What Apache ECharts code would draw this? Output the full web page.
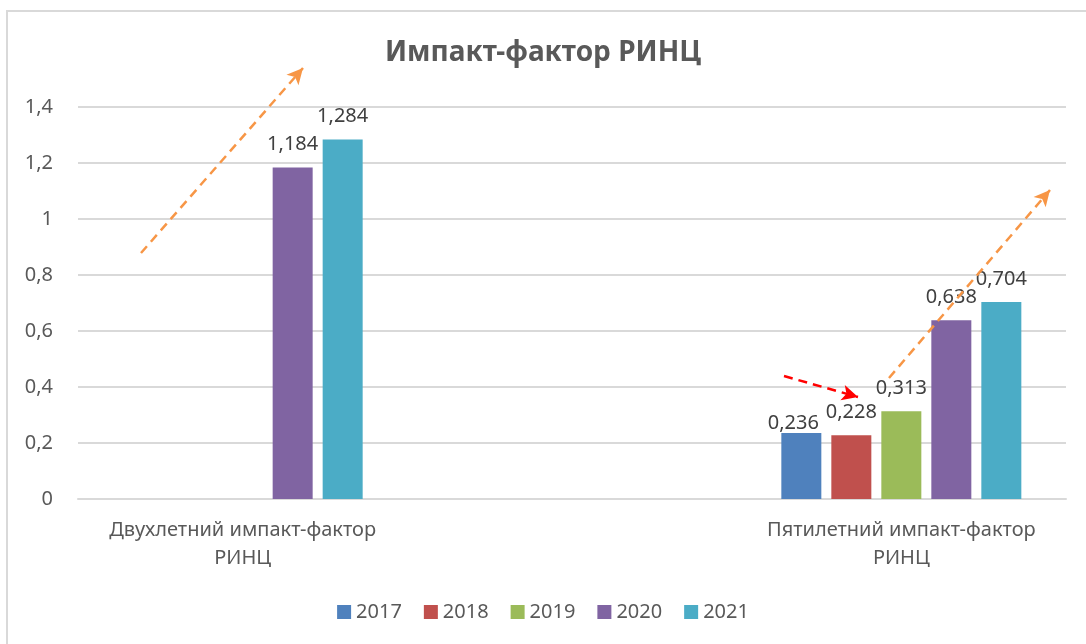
<!DOCTYPE html>
<html>
<head>
<meta charset="utf-8">
<title>Импакт-фактор РИНЦ</title>
<script src="https://cdn.jsdelivr.net/npm/echarts@6/dist/echarts.min.js"></script>
<style>
	html, body { margin: 0; padding: 0; background: #fff; }
	#chart { width: 1086px; height: 644px; }
</style>
</head>
<body>
<div id="chart"></div>
<script>
// категории (средняя пустая, как в исходной таблице)
var categories = [
	"Двухлетний импакт-фактор\nРИНЦ",
	"",
	"Пятилетний импакт-фактор\nРИНЦ"
];
var years = ["2017", "2018", "2019", "2020", "2021"];
var values2017 = [null, null, 0.236];
var values2018 = [null, null, 0.228];
var values2019 = [null, null, 0.313];
var values2020 = [1.184, null, 0.638];
var values2021 = [1.284, null, 0.704];
var yearColors = ["#4f81bd", "#c0504d", "#9bbb59", "#8064a2", "#4bacc6"];

var FONT = "Noto Sans, sans-serif";

function comma(v) {
	return String(+v.toFixed(3)).replace(".", ",");
}

var seriesData = [values2017, values2018, values2019, values2020, values2021];

var series = years.map(function (y, i) {
	return {
		name: y,
		type: "bar",
		data: seriesData[i].slice(),
		barWidth: 40,
		barGap: "25%",
		itemStyle: { color: yearColors[i] },
		label: {
			show: true,
			position: "top",
			distance: 13,
			fontFamily: FONT,
			fontSize: 20,
			color: "#404040",
			formatter: function (p) { return comma(p.value); }
		}
	};
});
// подпись 2017 в Excel сдвинута вручную ближе к столбцу
series[0].data[2] = {
	value: values2017[2],
	label: { distance: 0, offset: [-8, 0] }
};

// стрелки-пометки (пиксельные позиции на рисунке)
function arrow(x1, y1, x2, y2, color) {
	return [
		{ x: x1, y: y1, lineStyle: { color: color, type: [9, 6], width: 2.5 } },
		{ x: x2, y: y2 }
	];
}
series[0].markLine = {
	silent: true,
	animation: false,
	symbol: ["none", "arrow"],
	symbolSize: [12, 16],
	label: { show: false },
	data: [
		arrow(141, 253, 303, 68, "#f79646"),
		arrow(889, 378, 1050, 190, "#f79646"),
		arrow(784, 376, 858, 397, "#ff0000")
	]
};

var chart = echarts.init(document.getElementById("chart"));
chart.setOption({
	animation: false,
	textStyle: { fontFamily: FONT },
	title: {
		text: "Импакт-фактор РИНЦ",
		left: "center",
		top: 34,
		textStyle: {
			fontFamily: FONT,
			fontSize: 28,
			fontWeight: "bold",
			color: "#595959"
		}
	},
	legend: {
		bottom: 17,
		left: "center",
		itemWidth: 14,
		itemHeight: 14,
		itemGap: 22,
		icon: "rect",
		textStyle: { fontFamily: FONT, fontSize: 20, color: "#595959" },
		data: years
	},
	grid: {
		left: 78,
		right: 20,
		top: 107,
		bottom: 145,
		containLabel: false
	},
	xAxis: {
		type: "category",
		data: categories,
		axisTick: { show: false },
		axisLine: { lineStyle: { color: "#d9d9d9", width: 2 } },
		axisLabel: {
			interval: 0,
			margin: 17,
			fontFamily: FONT,
			fontSize: 20,
			lineHeight: 28,
			color: "#595959"
		}
	},
	yAxis: {
		type: "value",
		min: 0,
		max: 1.4,
		interval: 0.2,
		axisLine: { show: false },
		axisTick: { show: false },
		splitLine: { lineStyle: { color: "#d9d9d9", width: 2 } },
		axisLabel: {
			margin: 25,
			fontFamily: FONT,
			fontSize: 20,
			color: "#595959",
			formatter: function (v) { return comma(v); }
		}
	},
	graphic: [
		{
			type: "rect",
			silent: true,
			z: -1,
			shape: { x: 7, y: 11, width: 1090, height: 640 },
			style: { fill: "none", stroke: "#d9d9d9", lineWidth: 2 }
		}
	],
	series: series
});
window.addEventListener("resize", chart.resize);
</script>
</body>
</html>
